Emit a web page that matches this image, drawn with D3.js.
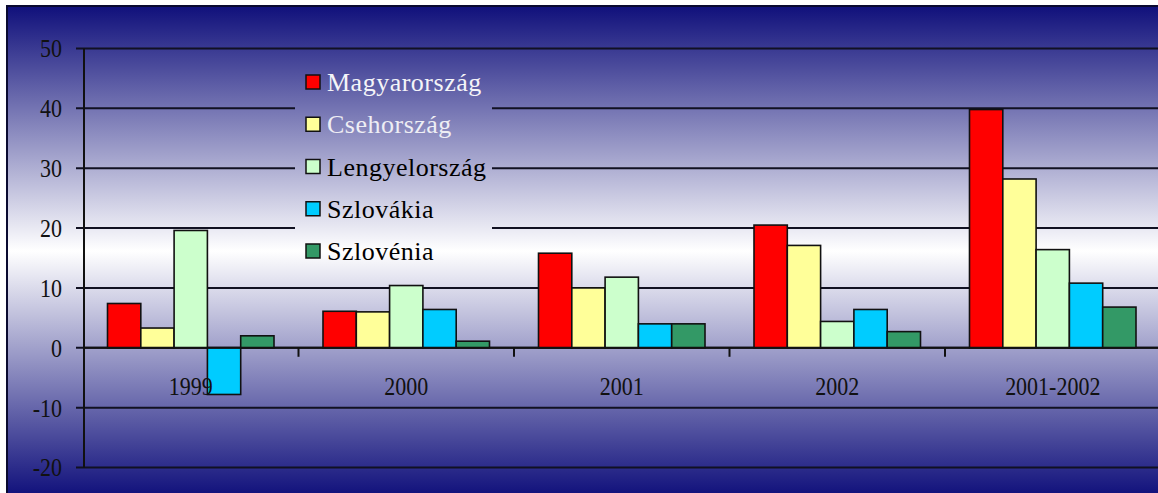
<!DOCTYPE html>
<html>
<head>
<meta charset="utf-8">
<script src="https://cdn.jsdelivr.net/npm/d3@7"></script>
<style>
  html, body { margin: 0; padding: 0; background: #ffffff; }
  svg { display: block; }
</style>
</head>
<body>
<svg id="chart" width="1158" height="493"></svg>
<script>
// Growth figures by country and period
const categories = ["1999", "2000", "2001", "2002", "2001-2002"];
const seriesNames = ["Magyarország", "Csehország", "Lengyelország", "Szlovákia", "Szlovénia"];
const magyarorszag  = [7.4, 6.1, 15.8, 20.5, 39.8];
const csehorszag    = [3.3, 6.0, 10.0, 17.1, 28.2];
const lengyelorszag = [19.6, 10.4, 11.8, 4.4, 16.4];
const szlovakia     = [-7.8, 6.4, 4.0, 6.4, 10.8];
const szlovenia     = [2.0, 1.1, 4.0, 2.7, 6.8];
const yTicks = [-20, -10, 0, 10, 20, 30, 40, 50];

const seriesValues = [magyarorszag, csehorszag, lengyelorszag, szlovakia, szlovenia];
const colors = ["#ff0000", "#ffff99", "#ccffcc", "#00ccff", "#339966"];
const legendTextColors = ["#f4f4f8", "#eeeef4", "#000000", "#000000", "#000000"];

const svg = d3.select("#chart");
const W = 1158, H = 493;

// Background gradient: navy at the edges fading to white in the middle
const defs = svg.append("defs");
const grad = defs.append("linearGradient")
  .attr("id", "bg")
  .attr("gradientUnits", "userSpaceOnUse")
  .attr("x1", 0).attr("y1", 6).attr("x2", 0).attr("y2", 496);
grad.append("stop").attr("offset", "0").attr("stop-color", "#10107b");
grad.append("stop").attr("offset", "0.5").attr("stop-color", "#ffffff");
grad.append("stop").attr("offset", "1").attr("stop-color", "#10107b");

svg.append("rect")
  .attr("x", 7).attr("y", 6)
  .attr("width", W + 10).attr("height", H + 10)
  .attr("fill", "url(#bg)")
  .attr("stroke", "#0a0a30").attr("stroke-width", 2);

const left = 84, right = 1160.5;
const y = d3.scaleLinear().domain([-20, 50]).range([467.5, 48.5]);
const x0 = d3.scaleBand().domain(categories).range([83, right]).padding(0);
const x1 = d3.scaleBand().domain(d3.range(seriesNames.length))
  .range([24.5, x0.bandwidth() - 24.5]).padding(0);

const fontFamily = "'Liberation Serif', 'Times New Roman', serif";
const stretch = 1.15; // tall, narrow axis digits

// Horizontal gridlines with left tick marks
svg.append("g")
  .selectAll("line")
  .data(yTicks)
  .join("line")
  .attr("x1", 76).attr("x2", W + 5)
  .attr("y1", d => y(d)).attr("y2", d => y(d))
  .attr("stroke", "#111122").attr("stroke-width", 2);

// Y axis labels
svg.append("g")
  .selectAll("text")
  .data(yTicks)
  .join("text")
  .attr("transform", d => `translate(62,${y(d)}) scale(1,${stretch})`)
  .attr("dy", "0.35em")
  .attr("text-anchor", "end")
  .attr("font-family", fontFamily)
  .attr("font-size", 22)
  .attr("fill", "#111")
  .text(d => d);

// Bars
const groups = svg.append("g")
  .selectAll("g")
  .data(categories)
  .join("g")
  .attr("transform", d => `translate(${x0(d)},0)`);

groups.selectAll("rect")
  .data((c, ci) => seriesValues.map((vals, si) => ({ si, v: vals[ci] })))
  .join("rect")
  .attr("x", d => x1(d.si))
  .attr("width", x1.bandwidth())
  .attr("y", d => y(Math.max(0, d.v)))
  .attr("height", d => Math.abs(y(d.v) - y(0)))
  .attr("fill", d => colors[d.si])
  .attr("stroke", "#111")
  .attr("stroke-width", 1.6);

// Zero (category) axis line and category tick marks
svg.append("line")
  .attr("x1", left).attr("x2", W + 5)
  .attr("y1", y(0)).attr("y2", y(0))
  .attr("stroke", "#111").attr("stroke-width", 2);

svg.append("g")
  .selectAll("line")
  .data(categories.slice(1))
  .join("line")
  .attr("x1", d => x0(d)).attr("x2", d => x0(d))
  .attr("y1", y(0)).attr("y2", y(0) + 9)
  .attr("stroke", "#111").attr("stroke-width", 2);

// Category labels
svg.append("g")
  .selectAll("text")
  .data(categories)
  .join("text")
  .attr("transform", d => `translate(${x0(d) + x0.bandwidth() / 2},395) scale(1,${stretch})`)
  .attr("text-anchor", "middle")
  .attr("font-family", fontFamily)
  .attr("font-size", 22)
  .attr("fill", "#111")
  .text(d => d);

// Y axis line
svg.append("line")
  .attr("x1", left).attr("x2", left)
  .attr("y1", y(50)).attr("y2", y(-20))
  .attr("stroke", "#111").attr("stroke-width", 2);

// Legend, filled with the same background so gridlines are hidden behind it
const legend = svg.append("g");
legend.append("rect")
  .attr("x", 295).attr("y", 60)
  .attr("width", 197).attr("height", 212)
  .attr("fill", "url(#bg)");

const legendRow = d3.scaleLinear().domain([0, 4]).range([82, 251]);
const items = legend.selectAll("g.item")
  .data(seriesNames)
  .join("g")
  .attr("class", "item")
  .attr("transform", (d, i) => `translate(306,${legendRow(i)})`);

items.append("rect")
  .attr("x", 0).attr("y", -7)
  .attr("width", 14).attr("height", 14)
  .attr("fill", (d, i) => colors[i])
  .attr("stroke", "#111").attr("stroke-width", 1.5);

items.append("text")
  .attr("x", 21).attr("y", 0)
  .attr("dy", "0.35em")
  .attr("font-family", fontFamily)
  .attr("font-size", 26)
  .attr("letter-spacing", 0.5)
  .attr("fill", (d, i) => legendTextColors[i])
  .text(d => d);
</script>
</body>
</html>
